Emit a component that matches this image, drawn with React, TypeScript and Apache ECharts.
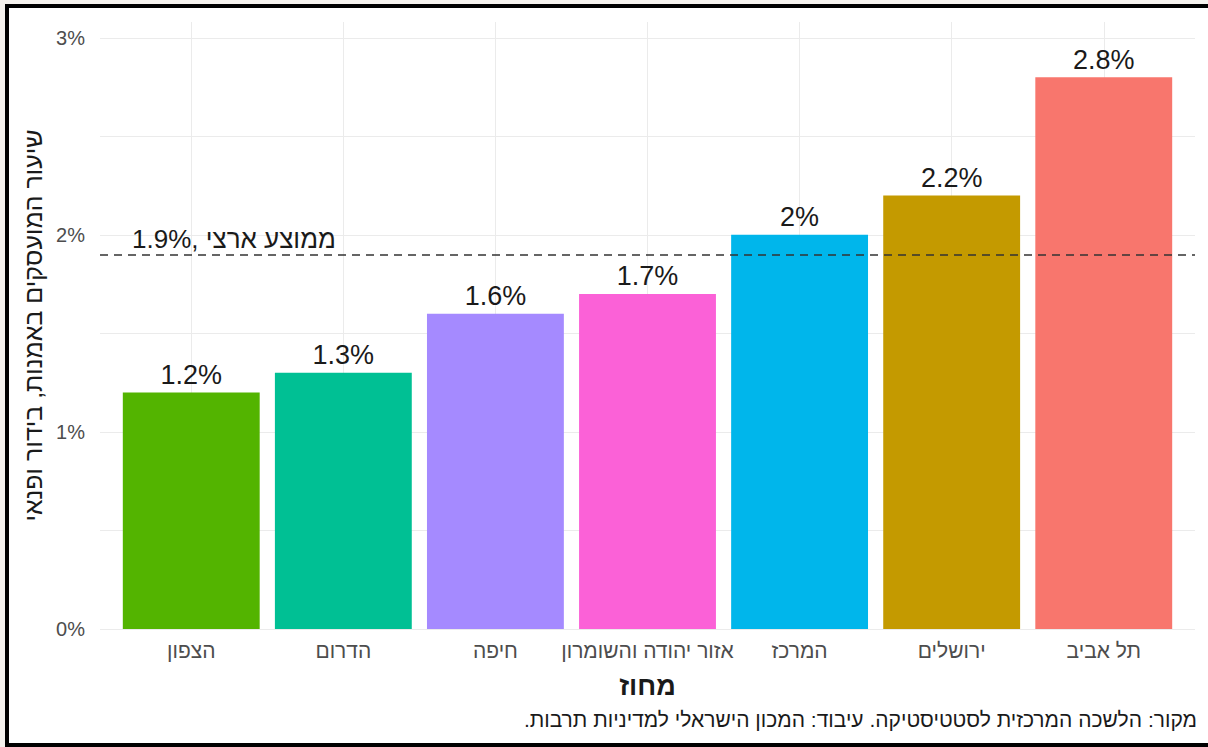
import React, { useEffect, useRef } from "react";
import * as echarts from "echarts";

const categories = ["הצפון", "הדרום", "חיפה", "אזור יהודה והשומרון", "המרכז", "ירושלים", "תל אביב"];
const values = [1.2, 1.3, 1.6, 1.7, 2, 2.2, 2.8];
const barColors = ["#53B400", "#00C094", "#A58AFF", "#FB61D7", "#00B6EB", "#C49A00", "#F8766D"];
const nationalAverage = 1.9;
const averageLabel = "ממוצע ארצי ,1.9%";
const yTitle = "שיעור המועסקים באמנות, בידור ופנאי";
const xTitle = "מחוז";
const caption = "מקור: הלשכה המרכזית לסטטיסטיקה. עיבוד: המכון הישראלי למדיניות תרבות.\u200F";

const FONT = "'Liberation Sans', Arial, sans-serif";

export default function App() {
  const ref = useRef<HTMLDivElement>(null);
  useEffect(() => {
    if (!ref.current) return;
    const chart = echarts.init(ref.current, undefined, { renderer: "svg" });
    const gridLeft = 100;
    const gridRight = 13;
    const plotWidth = 1208 - gridLeft - gridRight;
    const xMin = 0.4;
    const xMax = categories.length + 0.6;
    const barWidth = (0.9 * plotWidth) / (xMax - xMin);
    const centers = categories.map((_, i) => i + 1);
    chart.setOption({
      animation: false,
      textStyle: { fontFamily: FONT },
      grid: { left: gridLeft, right: gridRight, top: 22, bottom: 118, containLabel: false },
      xAxis: {
        type: "value",
        min: xMin,
        max: xMax,
        splitLine: { show: false },
        axisLine: { show: false },
        axisTick: { show: false, customValues: centers },
        axisLabel: {
          customValues: centers,
          formatter: (v: number) => categories[Math.round(v) - 1] ?? "",
          fontSize: 21,
          color: "#4d4d4d",
          margin: 11,
          fontFamily: FONT,
        },
        name: xTitle,
        nameLocation: "middle",
        nameGap: 43,
        nameTextStyle: { fontSize: 27, fontWeight: "bold", color: "#1a1a1a", fontFamily: FONT },
      },
      yAxis: {
        type: "value",
        min: 0,
        max: 3.08,
        interval: 0.5,
        axisLine: { show: false },
        axisTick: { show: false },
        splitLine: { show: true, showMaxLine: false, lineStyle: { color: "#ebebeb", width: 1 } },
        axisLabel: {
          formatter: (v: number) => (Math.abs(v - Math.round(v)) < 1e-9 ? Math.round(v) + "%" : ""),
          fontSize: 20,
          color: "#4d4d4d",
          margin: 15,
          showMaxLabel: false,
          fontFamily: FONT,
        },
        name: yTitle,
        nameLocation: "middle",
        nameGap: 54,
        nameTextStyle: { fontSize: 25, color: "#1a1a1a", fontFamily: FONT },
      },
      series: [
        {
          type: "line",
          data: [],
          z: 1,
          silent: true,
          markLine: {
            z: 1,
            silent: true,
            symbol: "none",
            label: { show: false },
            lineStyle: { color: "#ebebeb", width: 1, type: "solid" },
            data: centers.map((c) => ({ xAxis: c })),
          },
        },
        {
          type: "bar",
          z: 2,
          barWidth,
          data: values.map((v, i) => ({ value: [i + 1, v], itemStyle: { color: barColors[i] } })),
          label: {
            show: true,
            position: "top",
            distance: 4,
            formatter: (p: any) => p.value[1] + "%",
            fontSize: 27,
            color: "#1a1a1a",
            fontFamily: FONT,
          },
          markLine: {
            silent: true,
            symbol: "none",
            lineStyle: { color: "#333333", width: 1.5, type: [8, 6] },
            label: {
              show: true,
              position: "insideStartTop",
              formatter: averageLabel,
              fontSize: 26,
              color: "#1a1a1a",
              distance: [32, 3],
              fontFamily: FONT,
            },
            data: [{ yAxis: nationalAverage }],
          },
        },
      ],
      graphic: [
        {
          type: "text",
          right: 11,
          top: 709,
          style: { text: caption, fontSize: 21, fill: "#1a1a1a", fontFamily: FONT },
        },
      ],
    });
    return () => chart.dispose();
  }, []);
  return (
    <div style={{ position: "fixed", left: 0, top: 0, width: 1208, height: 747, background: "#f5f2ee", overflow: "hidden" }}>
      <div
        style={{
          position: "absolute",
          left: 5,
          top: 4,
          width: 1210,
          height: 743,
          boxSizing: "border-box",
          border: "4px solid #000",
          background: "#fff",
        }}
      />
      <div ref={ref} style={{ position: "absolute", left: 0, top: 0, width: 1208, height: 747 }} />
    </div>
  );
}
